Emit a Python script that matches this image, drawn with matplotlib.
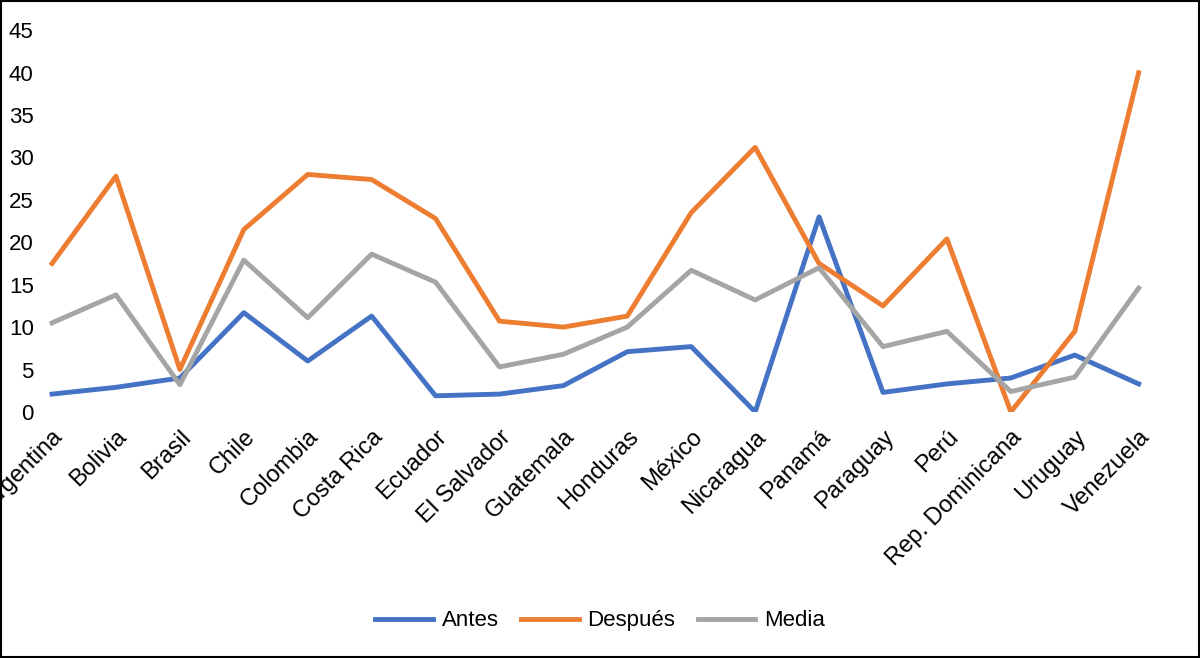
import matplotlib
matplotlib.use("Agg")
from matplotlib import pyplot as plt

paises = ["Argentina", "Bolivia", "Brasil", "Chile", "Colombia", "Costa Rica", "Ecuador",
          "El Salvador", "Guatemala", "Honduras", "México", "Nicaragua", "Panamá",
          "Paraguay", "Perú", "Rep. Dominicana", "Uruguay", "Venezuela"]
antes = [2.1, 2.9, 4.0, 11.7, 6.0, 11.3, 1.9, 2.1, 3.1, 7.1, 7.7, 0.0, 23.0, 2.3, 3.3, 4.0, 6.7, 3.3]
despues = [17.5, 27.8, 5.0, 21.5, 28.0, 27.4, 22.8, 10.7, 10.0, 11.3, 23.5, 31.2, 17.5, 12.5, 20.4, 0.0, 9.5, 40.0]
media = [10.5, 13.8, 3.2, 17.9, 11.1, 18.6, 15.3, 5.3, 6.8, 10.0, 16.7, 13.2, 17.0, 7.7, 9.5, 2.4, 4.1, 14.6]

plt.rcParams['font.family'] = ['Liberation Sans', 'DejaVu Sans']

fig = plt.figure(figsize=(12, 6.58), dpi=100)
ax = fig.add_axes([0.035, 0.374, 0.94, 0.58])
x = range(len(paises))
ax.plot(x, antes, color='#4472C4', lw=3.5, label='Antes')
ax.plot(x, despues, color='#ED7D31', lw=3.5, label='Después')
ax.plot(x, media, color='#A5A5A5', lw=3.5, label='Media')

ax.set_ylim(0, 45)
ax.set_yticks(range(0, 50, 5))
ax.set_xlim(-0.157, 17.49)
ax.set_xticks(list(x))
ax.set_xticklabels(paises, rotation=45, ha='right', rotation_mode='anchor', fontsize=17)
ax.tick_params(axis='y', labelsize=16, length=0, pad=6)
ax.tick_params(axis='x', length=0, pad=10)
for s in ax.spines.values():
    s.set_visible(False)

fig.legend(loc='lower center', ncol=3, frameon=False, fontsize=16,
           bbox_to_anchor=(0.5, 0.01), handlelength=2.6, handletextpad=0.4,
           columnspacing=1.0)

fig.patches.append(plt.Rectangle((0.001, 0.002), 0.998, 0.996, transform=fig.transFigure,
                                 fill=False, edgecolor='black', lw=1.5))

fig.savefig('out.png', dpi=100)
